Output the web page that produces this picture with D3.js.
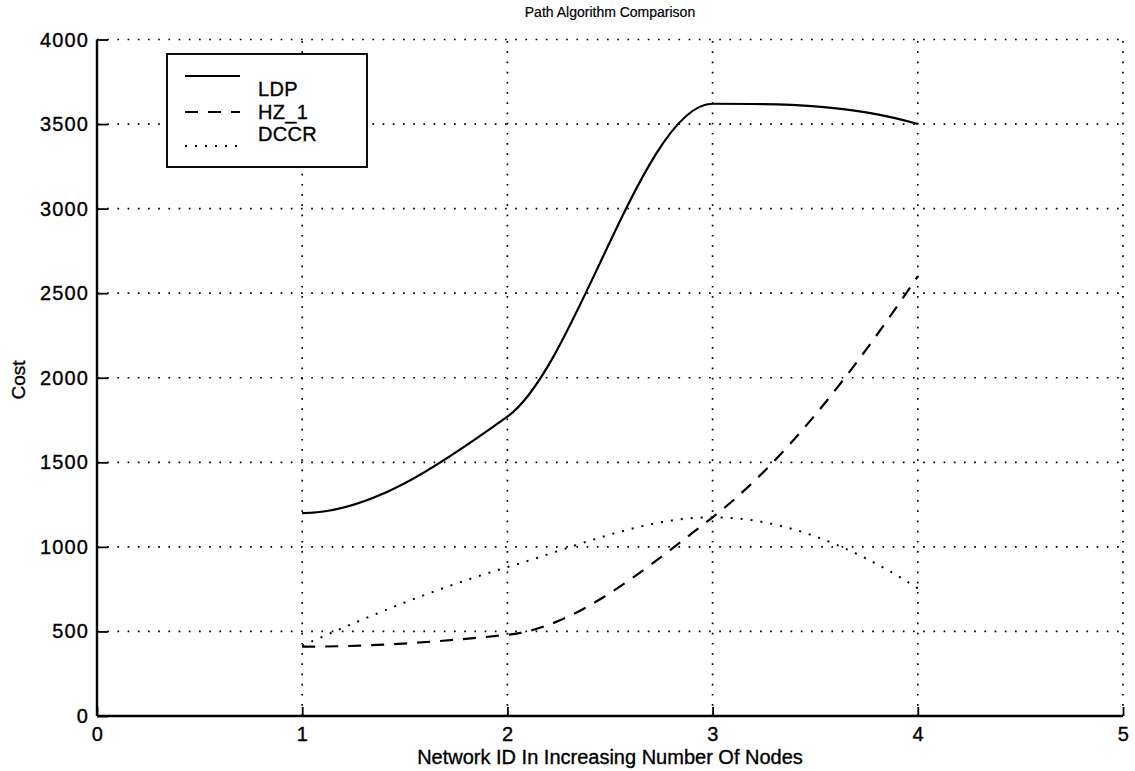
<!DOCTYPE html>
<html>
<head>
<meta charset="utf-8">
<script src="https://cdn.jsdelivr.net/npm/d3@7"></script>
<style>
  html, body { margin: 0; padding: 0; background: #fff; }
  svg { display: block; }
  text { font-family: "Liberation Sans", Arial, Helvetica, sans-serif; fill: #000; stroke: #000; stroke-width: 0.35px; }
</style>
</head>
<body>
<svg id="chart" width="1135" height="771"></svg>
<script>
// ---- data ----
const networkIds = [1, 2, 3, 4];
const ldp  = [1200, 1770, 3620, 3500];
const hz1  = [410, 480, 1175, 2600];
const dccr = [415, 880, 1175, 755];
const seriesNames = ["LDP", "HZ_1", "DCCR"];
const xTicks = [0, 1, 2, 3, 4, 5];
const yTicks = [0, 500, 1000, 1500, 2000, 2500, 3000, 3500, 4000];

// piecewise cubic Hermite (shape-preserving) curve for d3.line
function PchipCurve(context) { this._context = context; }
PchipCurve.prototype = {
  areaStart() { this._line = 0; },
  areaEnd() { this._line = NaN; },
  lineStart() { this._xs = []; this._ys = []; },
  point(px, py) { this._xs.push(+px); this._ys.push(+py); },
  lineEnd() {
    const X = this._xs, Y = this._ys, n = X.length, c = this._context;
    if (!n) return;
    c.moveTo(X[0], Y[0]);
    if (n === 1) return;
    if (n === 2) { c.lineTo(X[1], Y[1]); return; }
    const h = [], del = [];
    for (let i = 0; i < n - 1; i++) { h.push(X[i + 1] - X[i]); del.push((Y[i + 1] - Y[i]) / h[i]); }
    const d = new Array(n).fill(0);
    for (let k = 1; k < n - 1; k++) {
      if (Math.sign(del[k - 1]) * Math.sign(del[k]) > 0) {
        const w1 = 2 * h[k] + h[k - 1], w2 = h[k] + 2 * h[k - 1];
        d[k] = (w1 + w2) / (w1 / del[k - 1] + w2 / del[k]);
      }
    }
    const endSlope = (h0, h1, d0, d1) => {
      let s = ((2 * h0 + h1) * d0 - h0 * d1) / (h0 + h1);
      if (Math.sign(s) !== Math.sign(d0)) s = 0;
      else if (Math.sign(d0) !== Math.sign(d1) && Math.abs(s) > Math.abs(3 * d0)) s = 3 * d0;
      return s;
    };
    d[0] = endSlope(h[0], h[1], del[0], del[1]);
    d[n - 1] = endSlope(h[n - 2], h[n - 3], del[n - 2], del[n - 3]);
    for (let i = 0; i < n - 1; i++) {
      const t = h[i] / 3;
      c.bezierCurveTo(X[i] + t, Y[i] + d[i] * t, X[i + 1] - t, Y[i + 1] - d[i + 1] * t, X[i + 1], Y[i + 1]);
    }
  }
};
const curvePchip = ctx => new PchipCurve(ctx);

(function () {
const svg = d3.select("#chart");
const pL = 97, pR = 1123, pT = 39.5, pB = 716;

const x = d3.scaleLinear().domain([0, 5]).range([pL, pR]);
const y = d3.scaleLinear().domain([0, 4000]).range([pB, pT]);

// grid
const grid = svg.append("g").attr("stroke", "#000").attr("stroke-width", 1.7)
  .attr("stroke-dasharray", "1.7,8.5").attr("fill", "none");
grid.selectAll("line.v").data(xTicks.filter(d => d > 0)).join("line").attr("class", "v")
  .attr("x1", d => x(d)).attr("x2", d => x(d))
  .attr("y1", pB).attr("y2", pT);
grid.selectAll("line.h").data(yTicks.filter(d => d > 0)).join("line").attr("class", "h")
  .attr("x1", pL).attr("x2", pR)
  .attr("y1", d => y(d)).attr("y2", d => y(d));

// axes (inward ticks)
const xAxis = d3.axisTop(x).tickValues(xTicks).tickSize(9).tickFormat("");
const yAxis = d3.axisRight(y).tickValues(yTicks).tickSize(11).tickFormat("");
const gx = svg.append("g").attr("transform", `translate(0,${pB})`).call(xAxis);
const gy = svg.append("g").attr("transform", `translate(${pL},0)`).call(yAxis);
[gx, gy].forEach(g => {
  g.select(".domain").remove();
  g.selectAll(".tick line").attr("stroke", "#000").attr("stroke-width", 1.8);
});
svg.append("line").attr("x1", pL).attr("x2", pR).attr("y1", pB).attr("y2", pB)
  .attr("stroke", "#000").attr("stroke-width", 2.4);
svg.append("line").attr("x1", pL).attr("x2", pL).attr("y1", pT).attr("y2", pB)
  .attr("stroke", "#000").attr("stroke-width", 2.4);

// tick labels
svg.append("g").selectAll("text").data(xTicks).join("text")
  .attr("x", d => x(d) + 0.5).attr("y", 741).attr("text-anchor", "middle")
  .attr("font-size", 20).attr("letter-spacing", 0.6).text(d => d);
svg.append("g").selectAll("text").data(yTicks).join("text")
  .attr("x", 89).attr("y", d => y(d) + 7).attr("text-anchor", "end")
  .attr("font-size", 20).attr("letter-spacing", 1.1).text(d => d);

// labels
svg.append("text").attr("x", (pL + pR) / 2).attr("y", 17).attr("text-anchor", "middle")
  .attr("font-size", 14).style("stroke-width", "0.2px").text("Path Algorithm Comparison");
svg.append("text").attr("x", (pL + pR) / 2).attr("y", 764).attr("text-anchor", "middle")
  .attr("font-size", 20).text("Network ID In Increasing Number Of Nodes");
svg.append("text").attr("transform", `translate(25,380) rotate(-90)`).attr("text-anchor", "middle")
  .attr("font-size", 19).text("Cost");

// lines
const line = d3.line().x((d, i) => x(networkIds[i])).y(d => y(d)).curve(curvePchip);
const styles = [
  { data: ldp,  dash: null,     width: 2.2 },
  { data: hz1,  dash: "13,10",  width: 2.2 },
  { data: dccr, dash: "2,8",    width: 2 }
];
styles.forEach(s => {
  svg.append("path").attr("d", line(s.data)).attr("fill", "none")
    .attr("stroke", "#000").attr("stroke-width", s.width)
    .attr("stroke-dasharray", s.dash);
});

// legend
const lg = svg.append("g");
lg.append("rect").attr("x", 167).attr("y", 54).attr("width", 200).attr("height", 113)
  .attr("fill", "#fff").attr("stroke", "#000").attr("stroke-width", 1.9);
const sampleY = [76, 112, 146];
const textY = [96, 119, 141];
styles.forEach((s, i) => {
  lg.append("line").attr("x1", 185).attr("x2", 240).attr("y1", sampleY[i]).attr("y2", sampleY[i])
    .attr("stroke", "#000").attr("stroke-width", s.width).attr("stroke-dasharray", s.dash);
  lg.append("text").attr("x", 258).attr("y", textY[i]).attr("font-size", 20)
    .attr("letter-spacing", 0.3).text(seriesNames[i]);
});
})();
</script>
</body>
</html>
